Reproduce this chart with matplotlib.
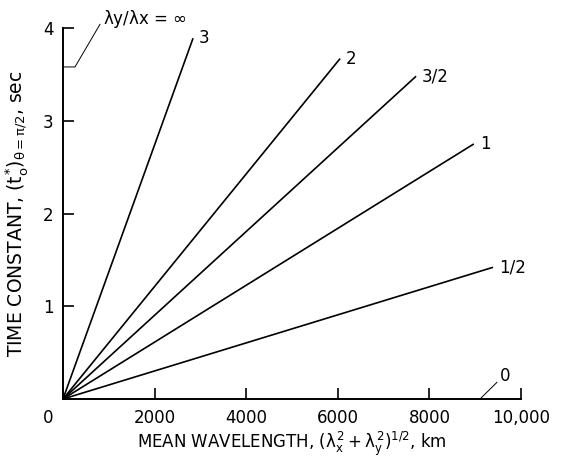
import matplotlib
matplotlib.use("Agg")
import matplotlib.pyplot as plt

# ratio lambda_y / lambda_x for each line, and where each line ends
ratio_labels = ["3", "2", "3/2", "1", "1/2"]
end_wavelength = [2840, 6050, 7710, 8970, 9390]   # km
end_time = [3.89, 3.67, 3.48, 2.75, 1.42]          # sec

x_ticks = [0, 2000, 4000, 6000, 8000, 10000]
x_ticklabels = ["", "2000", "4000", "6000", "8000", "10,000"]
y_ticks = [0, 1, 2, 3, 4]
y_ticklabels = ["", "1", "2", "3", "4"]

plt.rcParams["font.family"] = "DejaVu Sans"
plt.rcParams["mathtext.fontset"] = "custom"
plt.rcParams["mathtext.rm"] = "DejaVu Sans"
plt.rcParams["mathtext.it"] = "DejaVu Sans"

fs = 12

fig = plt.figure(figsize=(5.7, 4.59), dpi=100)
ax = fig.add_axes([0.1105, 0.1307, 0.8035, 0.8083])

# fan of lines from the origin
for lab, xe, ye in zip(ratio_labels, end_wavelength, end_time):
    ax.plot([0, xe], [0, ye], color="black", lw=1.2, solid_capstyle="butt")
    ax.text(xe + 130, ye, lab, fontsize=fs, ha="left", va="center")

# infinite ratio lies on the y axis, zero ratio on the x axis: leaders
ax.plot([0, 262, 808], [3.58, 3.58, 4.04], color="black", lw=0.7, clip_on=False)
ax.text(870, 4.10, r"$\lambda$y/$\lambda$x = $\infty$", fontsize=fs,
        ha="left", va="center")
ax.plot([9105, 9476], [0, 0.18], color="black", lw=0.7, clip_on=False)
ax.text(9530, 0.25, "0", fontsize=fs, ha="left", va="center")

ax.set_xlim(0, 10000)
ax.set_ylim(0, 4)
ax.set_xticks(x_ticks)
ax.set_xticklabels(x_ticklabels)
ax.set_yticks(y_ticks)
ax.set_yticklabels(y_ticklabels)
ax.tick_params(direction="in", length=8, width=1.2, labelsize=fs, pad=7)
ax.spines["top"].set_visible(False)
ax.spines["right"].set_visible(False)
for s in ["left", "bottom"]:
    ax.spines[s].set_linewidth(1.4)

ax.text(-320, -0.2, "0", fontsize=fs, ha="center", va="center")

ax.set_xlabel(r"MEAN WAVELENGTH, $(\lambda_x^2+\lambda_y^2)^{1/2}$, km",
              fontsize=fs, labelpad=2)
ax.set_ylabel(r"TIME CONSTANT, $(t_o^{*})_{\theta=\pi/2}$, sec",
              fontsize=13.5, labelpad=9)

fig.savefig("out.png", dpi=100)
